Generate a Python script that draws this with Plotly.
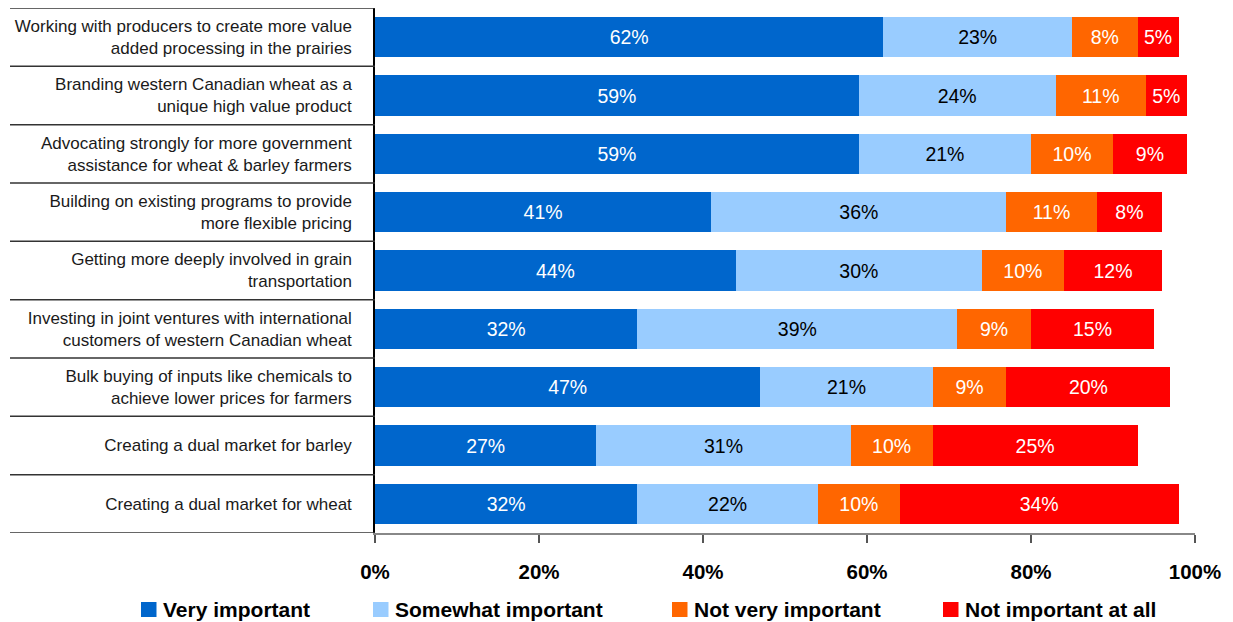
import plotly.graph_objects as go

categories = [
    "Working with producers to create more value<br>added processing in the prairies",
    "Branding western Canadian wheat as a<br>unique high value product",
    "Advocating strongly for more government<br>assistance for wheat & barley farmers",
    "Building on existing programs to provide<br>more flexible pricing",
    "Getting more deeply involved in grain<br>transportation",
    "Investing in joint ventures with international<br>customers of western Canadian wheat",
    "Bulk buying of inputs like chemicals to<br>achieve lower prices for farmers",
    "Creating a dual market for barley",
    "Creating a dual market for wheat",
]

very_important = [62, 59, 59, 41, 44, 32, 47, 27, 32]
somewhat_important = [23, 24, 21, 36, 30, 39, 21, 31, 22]
not_very_important = [8, 11, 10, 11, 10, 9, 9, 10, 10]
not_important_at_all = [5, 5, 9, 8, 12, 15, 20, 25, 34]

x_ticks = [0, 20, 40, 60, 80, 100]
x_tick_labels = ["0%", "20%", "40%", "60%", "80%", "100%"]

series = [
    ("Very important", very_important, "#0066CC", "white"),
    ("Somewhat important", somewhat_important, "#99CCFF", "black"),
    ("Not very important", not_very_important, "#FF6600", "white"),
    ("Not important at all", not_important_at_all, "#FF0000", "white"),
]

FONT = "Liberation Sans"

# plot area in pixels (used to place the hand-built legend below the axis)
W, H = 1233, 622
ML, MR, MT, MB = 375, 38, 8, 89
plot_w = W - ML - MR
plot_h = H - MT - MB


def px_to_paper_x(px):
    return (px - ML) / plot_w


def px_to_paper_y(py):
    return (H - MB - py) / plot_h


fig = go.Figure()
for name, vals, color, txtcolor in series:
    fig.add_trace(go.Bar(
        y=categories, x=vals, name=name, orientation="h",
        marker=dict(color=color, line=dict(width=0)),
        text=[f"{v}%" for v in vals], texttemplate="%{text}",
        textposition="inside", insidetextanchor="middle", constraintext="none",
        textfont=dict(color=txtcolor, size=19.5, family=FONT),
        showlegend=False,
    ))

# separator lines between category labels
shapes = []
for i in range(len(categories) + 1):
    shapes.append(dict(
        type="line", xref="paper", yref="y",
        x0=px_to_paper_x(10), x1=0, y0=i - 0.5, y1=i - 0.5,
        line=dict(color="#333333", width=1.5),
    ))

# legend: coloured squares followed by bold labels
legend_square_left = [141, 373, 672, 943]
legend_cy = 609.5
annotations = []
for (name, _, color, _), sx in zip(series, legend_square_left):
    shapes.append(dict(
        type="rect", xref="paper", yref="paper",
        x0=px_to_paper_x(sx), x1=px_to_paper_x(sx + 15.5),
        y0=px_to_paper_y(legend_cy + 7.5), y1=px_to_paper_y(legend_cy - 7.5),
        fillcolor=color, line=dict(width=0),
    ))
    annotations.append(dict(
        text=name, xref="paper", yref="paper",
        x=px_to_paper_x(sx + 20), y=px_to_paper_y(legend_cy),
        xanchor="left", yanchor="middle", showarrow=False,
        font=dict(family=FONT, size=21, color="black", weight="bold"),
    ))

fig.update_layout(
    width=W, height=H,
    margin=dict(l=ML, r=MR, t=MT, b=MB),
    barmode="stack", bargap=0.314,
    plot_bgcolor="white", paper_bgcolor="white",
    shapes=shapes, annotations=annotations,
    showlegend=False,
    xaxis=dict(
        range=[0, 100], tickvals=x_ticks, ticktext=x_tick_labels,
        showgrid=False, zeroline=False,
        showline=True, linecolor="#888888", linewidth=1.5,
        ticks="outside", ticklen=8, tickcolor="#555555", tickwidth=1.5,
        ticklabelstandoff=12,
        tickfont=dict(family=FONT, size=20.5, color="black", weight="bold"),
    ),
    yaxis=dict(
        range=[8.5, -0.5], showgrid=False, zeroline=False,
        showline=True, linecolor="black", linewidth=1.5,
        ticks="", ticklabelstandoff=18,
        tickfont=dict(family=FONT, size=17, color="#1a1a1a"),
    ),
)

fig.write_html("out.html")
